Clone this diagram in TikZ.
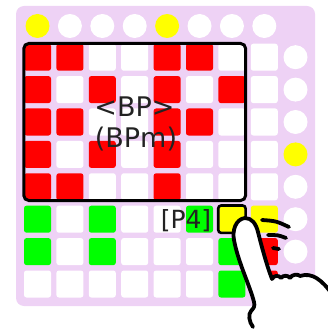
\documentclass[tikz,border=0pt]{standalone}
\usepackage{fontspec}
\setmainfont{DejaVu Sans}
\definecolor{panel}{RGB}{238,210,245}
\definecolor{padR}{RGB}{255,0,0}
\definecolor{padG}{RGB}{0,255,0}
\definecolor{padY}{RGB}{255,255,0}
\definecolor{padW}{RGB}{255,255,255}
\definecolor{ink}{RGB}{34,34,34}
% shared contour of the pointing hand (image-style coordinates, y down)
\newcommand\handcontour{(253,327)
  .. controls (249,322) and (248,314) .. (251,311)
  .. controls (254,308) and (255,306) .. (254,302)
  .. controls (250,286) and (238,262) .. (234,240)
  .. controls (232,230) and (236,219) .. (245,218)
  .. controls (252,218) and (256,224) .. (258,232)
  .. controls (262,248) and (267,266) .. (272,279)
  .. controls (274,275) and (279,275) .. (281,278)
  .. controls (283,275) and (288,275) .. (290,278)
  .. controls (292,274) and (298,274) .. (300,276)
  .. controls (312,272) and (322,280) .. (332,294)}
\begin{document}
\begin{tikzpicture}[x=1pt,y=-1pt,
  pad/.style={minimum size=27pt, inner sep=0pt, rounded corners=2.5pt, draw=none},
  led/.style={circle, minimum size=24pt, inner sep=0pt, draw=none},
  lbl/.style={text=ink, inner sep=0pt, font=\fontsize{25}{30}\selectfont},
  biglbl/.style={lbl, font=\fontsize{27}{32}\selectfont},
  outline/.style={draw=black, line width=3.8pt, line join=round, line cap=round}]
\useasboundingbox (0,0) rectangle (327,331);
% device body
\fill[panel, rounded corners=8pt] (16,6) rectangle (315,306);
% top row of round buttons
\foreach \c [count=\i from 0] in {Y,W,W,W,Y,W,W,W}
  \node[led, fill=pad\c] (t\i) at ({37.5+32.4*\i},26) {};
% right column of round buttons
\foreach \c [count=\j from 0] in {W,W,W,Y,W,W,W}
  \node[led, fill=pad\c] (r\j) at (295.5,{57.2+32.4*\j}) {};
% 8x8 pad grid
\foreach \row [count=\j from 0] in {
    {R,R,W,W,R,R,W,W},
    {R,W,R,W,R,W,R,W},
    {R,R,W,W,R,R,W,W},
    {R,W,R,W,R,W,W,W},
    {R,R,W,W,R,W,W,W},
    {G,W,G,W,W,G,Y,Y},
    {G,W,G,W,W,W,G,R},
    {W,W,W,W,W,W,G,R}}
  \foreach \c [count=\i from 0] in \row
    \node[pad, fill=pad\c] (p\j\i) at ({37.5+32.4*\i},{57.2+32.4*\j}) {};
% frame around the upper block
\draw[line width=3pt, rounded corners=5pt] (p00.north west) rectangle (p46.south east);
% pressed pad
\draw[line width=2.6pt, rounded corners=3pt] (p56.north west) rectangle (p56.south east);
% labels
\node[biglbl, anchor=base] (bp) at (134.5,117) {<BP>};
\node[biglbl, anchor=base] (bpm) at (136,147) {(BPm)};
\node[lbl, anchor=base] (p4) at (186,228) {[P4]};
% pointing hand
\fill[white] \handcontour -- (332,340) -- (253,340) -- cycle;
\draw[outline] \handcontour;
% motion strokes
\draw[outline] (262,220) .. controls (276,221) .. (289,227);
\draw[outline] (268,235) .. controls (278,235) .. (286,238);
\draw[outline] (273,248) -- (279,249);
\end{tikzpicture}
\end{document}
